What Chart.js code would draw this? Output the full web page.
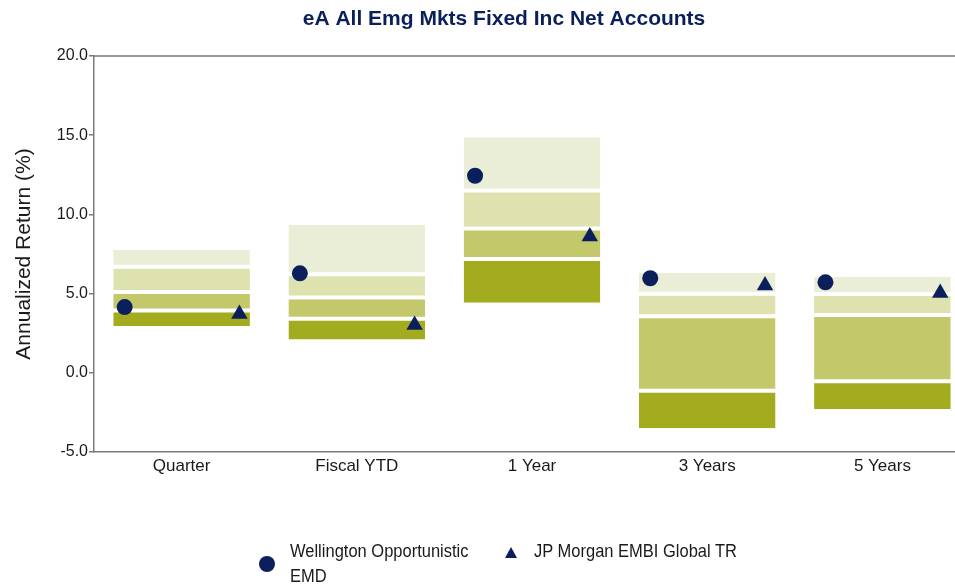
<!DOCTYPE html>
<html>
<head>
<meta charset="utf-8">
<script src="https://cdn.jsdelivr.net/npm/chart.js@4"></script>
<style>
  html, body { margin: 0; padding: 0; overflow: hidden; background: #fff; }
  #wrap { position: relative; width: 1008px; height: 588px; }
  .lg { position: absolute; font-family: "Liberation Sans", Arial, sans-serif; font-size: 16.5px; line-height: 23px; color: #1a1a1a; white-space: nowrap; transform: scaleY(1.08); transform-origin: 0 0; }
  .dot { position: absolute; width: 16px; height: 16px; border-radius: 50%; background: #0b1f5c; }
  .tri { position: absolute; width: 0; height: 0; border-left: 6.5px solid transparent; border-right: 6.5px solid transparent; border-bottom: 11px solid #0b1f5c; }
</style>
</head>
<body>
<div id="wrap">
  <canvas id="universe" width="1008" height="588"></canvas>
  <div class="dot" style="left:259px; top:556px;"></div>
  <div class="lg" style="left:290px; top:539px;">Wellington Opportunistic<br>EMD</div>
  <div class="tri" style="left:505px; top:547px;"></div>
  <div class="lg" style="left:534px; top:539px;">JP Morgan EMBI Global TR</div>
</div>
<script>
const categories = ['Quarter', 'Fiscal YTD', '1 Year', '3 Years', '5 Years'];

// universe percentiles, best (5th) to worst (95th)
const pct5 = [7.75, 9.33, 14.87, 6.32, 6.07];
const pct25 = [6.69, 6.22, 11.51, 4.99, 4.97];
const median = [5.10, 4.75, 9.11, 3.57, 3.65];
const pct75 = [3.93, 3.41, 7.18, -1.13, -0.54];
const pct95 = [2.95, 2.11, 4.43, -3.50, -2.28];

const wellington = [4.15, 6.28, 12.44, 5.97, 5.71];
const jpMorgan = [3.72, 3.01, 8.60, 5.51, 5.03];

const yTicks = [-5, 0, 5, 10, 15, 20];

const navy = '#0b1f5c';
const axisGray = '#7a7a7a';
const textColor = '#1a1a1a';

Chart.defaults.font.family = '"Liberation Sans", Arial, sans-serif';

function band(label, hi, lo, color, edges) {
    return {
        type: 'bar',
        label: label,
        order: 1,
        data: hi.map((v, i) => [lo[i], v]),
        backgroundColor: color,
        borderColor: '#ffffff',
        borderWidth: edges,
        borderSkipped: false,
        grouped: false,
        barPercentage: 0.78,
        categoryPercentage: 1,
        xAxisID: 'x',
        yAxisID: 'y'
    };
}

// markers sit left / right inside each category
const markerShift = 0.325;

const datasets = [
    {
        type: 'scatter',
        label: 'Wellington Opportunistic EMD',
        order: 0,
        data: wellington.map((v, i) => ({ x: i - markerShift, y: v })),
        pointStyle: 'circle',
        pointRadius: 8,
        backgroundColor: navy,
        borderColor: navy,
        borderWidth: 0,
        xAxisID: 'x2',
        yAxisID: 'y'
    },
    {
        type: 'scatter',
        label: 'JP Morgan EMBI Global TR',
        order: 0,
        data: jpMorgan.map((v, i) => ({ x: i + markerShift + 0.005, y: v })),
        pointStyle: 'triangle',
        pointRadius: 9.5,
        backgroundColor: navy,
        borderColor: navy,
        borderWidth: 0,
        xAxisID: 'x2',
        yAxisID: 'y'
    },
    band('5th to 25th', pct5, pct25, '#ebeed6', { top: 0, bottom: 2, left: 0, right: 0 }),
    band('25th to Median', pct25, median, '#dde2ae', { top: 2, bottom: 2, left: 0, right: 0 }),
    band('Median to 75th', median, pct75, '#c3c86b', { top: 2, bottom: 2, left: 0, right: 0 }),
    band('75th to 95th', pct75, pct95, '#a2ac1e', { top: 2, bottom: 0, left: 0, right: 0 })
];

// top and right edge of the plot frame
const frame = {
    id: 'frame',
    afterDraw(chart) {
        const { ctx, chartArea: a } = chart;
        ctx.save();
        ctx.strokeStyle = axisGray;
        ctx.lineWidth = 1.5;
        ctx.beginPath();
        ctx.moveTo(a.left, a.top);
        ctx.lineTo(a.right, a.top);
        ctx.lineTo(a.right, a.bottom);
        ctx.stroke();
        ctx.restore();
    }
};

new Chart(document.getElementById('universe'), {
    type: 'bar',
    data: { labels: categories, datasets: datasets },
    plugins: [frame],
    options: {
        responsive: false,
        animation: false,
        layout: { padding: 0 },
        plugins: {
            legend: { display: false },
            tooltip: { enabled: false },
            title: {
                display: true,
                text: 'eA All Emg Mkts Fixed Inc Net Accounts',
                color: navy,
                font: { size: 21, weight: 'bold' },
                padding: { top: 7, bottom: 23.8 }
            }
        },
        scales: {
            x: {
                type: 'category',
                offset: true,
                grid: { display: false, drawTicks: false },
                border: { display: true, color: axisGray, width: 1.5 },
                ticks: { color: textColor, font: { size: 17 }, padding: 4 },
                afterFit: s => { s.height = 136; }
            },
            x2: {
                type: 'linear',
                display: false,
                offset: false,
                min: -0.5,
                max: categories.length - 0.5
            },
            y: {
                min: -5,
                max: 20,
                afterBuildTicks: s => { s.ticks = yTicks.map(v => ({ value: v })); },
                grid: { drawOnChartArea: false, drawTicks: true, tickLength: 5, color: axisGray, lineWidth: 1.5 },
                border: { display: true, color: axisGray, width: 1.5 },
                ticks: {
                    color: textColor,
                    font: { size: 16 },
                    padding: 1,
                    callback: v => v.toFixed(1)
                },
                title: {
                    display: true,
                    text: 'Annualized Return (%)',
                    color: textColor,
                    font: { size: 21 },
                    padding: { top: 12, bottom: 4 }
                },
                afterFit: s => { s.width = 94; }
            },
            // empty strip on the right, keeps the plot clear of the edge
            yRight: {
                position: 'right',
                display: true,
                grid: { display: false, drawTicks: false },
                border: { display: false },
                ticks: { display: false },
                afterFit: s => { s.width = 38; }
            }
        }
    }
});
</script>
</body>
</html>
